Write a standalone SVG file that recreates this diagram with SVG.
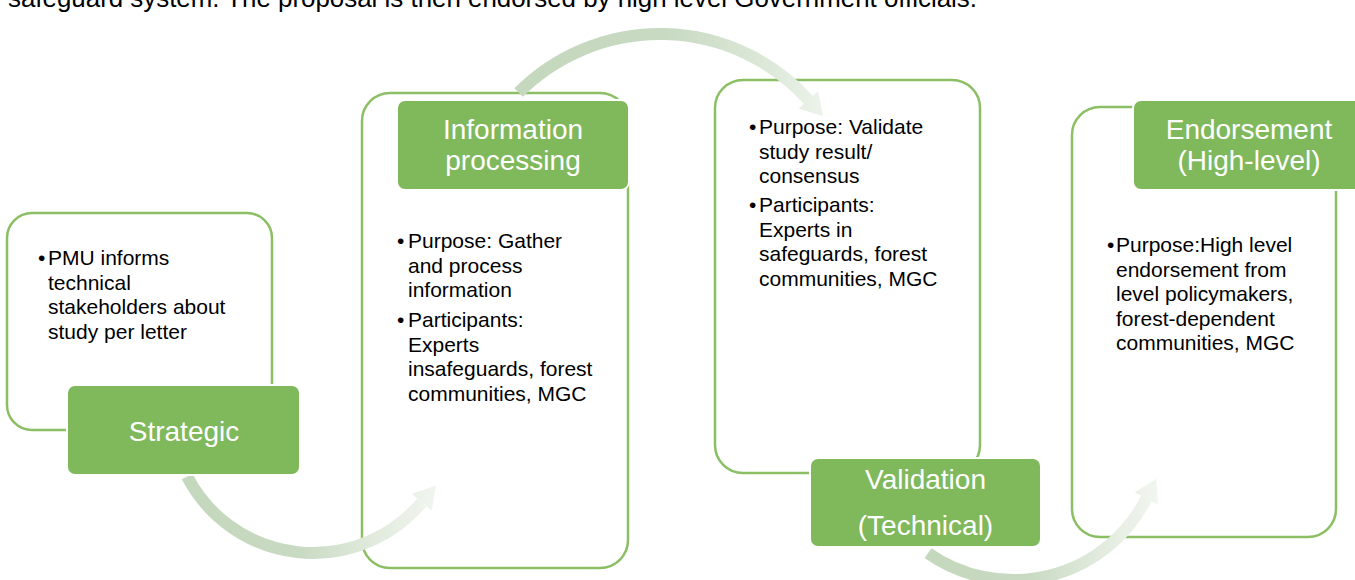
<svg xmlns="http://www.w3.org/2000/svg" width="1355" height="580" viewBox="0 0 1355 580">
<style>
.box{fill:#ffffff;stroke:#8cbf64;stroke-width:2.5}
.lab{fill:#80b85c;stroke:#ffffff;stroke-width:2}
.lt{font-family:"Liberation Sans",Arial,sans-serif;font-size:28px;fill:#ffffff;text-anchor:middle}
.bt{font-family:"Liberation Sans",Arial,sans-serif;font-size:21px;fill:#000000}
.top{font-family:"Liberation Sans",Arial,sans-serif;font-size:25.8px;fill:#000000}
</style>
<defs>
<linearGradient id="g1" gradientUnits="userSpaceOnUse" x1="180" y1="0" x2="440" y2="0">
<stop offset="0" stop-color="#c4d8bd"/><stop offset="0.45" stop-color="#c8dac2"/><stop offset="0.75" stop-color="#e2ebde"/><stop offset="1" stop-color="#f2f6f1"/>
</linearGradient>
<linearGradient id="g2" gradientUnits="userSpaceOnUse" x1="505" y1="0" x2="825" y2="0">
<stop offset="0" stop-color="#c4d8bd"/><stop offset="0.5" stop-color="#c8dac2"/><stop offset="0.8" stop-color="#dbe7d7"/><stop offset="1" stop-color="#edf3eb"/>
</linearGradient>
<linearGradient id="g3" gradientUnits="userSpaceOnUse" x1="920" y1="0" x2="1160" y2="0">
<stop offset="0" stop-color="#c4d8bd"/><stop offset="0.45" stop-color="#c8dac2"/><stop offset="0.75" stop-color="#e2ebde"/><stop offset="1" stop-color="#f2f6f1"/>
</linearGradient>
</defs>
<rect width="1355" height="580" fill="#ffffff"/>
<text class="top" x="8" y="7" textLength="969" lengthAdjust="spacingAndGlyphs">safeguard system. The proposal is then endorsed by high level Government officials.</text>
<g id="node-strategic">
<rect class="box" x="7" y="213" width="265" height="217" rx="25"/>
<text class="bt" x="38" y="265">•</text>
<text class="bt"><tspan x="48" y="265">PMU informs</tspan><tspan x="48" y="289.5">technical</tspan><tspan x="48" y="314">stakeholders about</tspan><tspan x="48" y="338.5">study per letter</tspan></text>
</g>
<g id="node-information">
<rect class="box" x="362" y="93" width="266" height="475" rx="28"/>
<text class="bt" x="397" y="248">•</text>
<text class="bt"><tspan x="408" y="248">Purpose: Gather</tspan><tspan x="408" y="272.5">and process</tspan><tspan x="408" y="297">information</tspan></text>
<text class="bt" x="397" y="327">•</text>
<text class="bt"><tspan x="408" y="327">Participants:</tspan><tspan x="408" y="351.5">Experts</tspan><tspan x="408" y="376">insafeguards, forest</tspan><tspan x="408" y="400.5">communities, MGC</tspan></text>
</g>
<g id="node-validation">
<rect class="box" x="715" y="80" width="265" height="393" rx="28"/>
<text class="bt" x="749" y="134">•</text>
<text class="bt"><tspan x="759" y="134">Purpose: Validate</tspan><tspan x="759" y="158.5">study result/</tspan><tspan x="759" y="183">consensus</tspan></text>
<text class="bt" x="749" y="212">•</text>
<text class="bt"><tspan x="759" y="212">Participants:</tspan><tspan x="759" y="236.5">Experts in</tspan><tspan x="759" y="261">safeguards, forest</tspan><tspan x="759" y="285.5">communities, MGC</tspan></text>
</g>
<g id="node-endorsement">
<rect class="box" x="1072" y="107" width="264" height="430" rx="28"/>
<text class="bt" x="1107" y="252">•</text>
<text class="bt"><tspan x="1116" y="252">Purpose:High level</tspan><tspan x="1116" y="276.5">endorsement from</tspan><tspan x="1116" y="301">level policymakers,</tspan><tspan x="1116" y="325.5">forest-dependent</tspan><tspan x="1116" y="350">communities, MGC</tspan></text>
</g>
<g id="connectors">
<path d="M 187.1 476.6 A 142 142 0 0 0 421.8 502.3" fill="none" stroke="url(#g1)" stroke-width="12"/>
<polygon points="436,485.4 431.8,510.6 411.8,493.9" fill="url(#g1)"/>
<path d="M 518.6 92.6 A 200 200 0 0 1 808.4 99.9" fill="none" stroke="url(#g2)" stroke-width="12"/>
<polygon points="823.1,116.2 818.0,91.2 798.8,108.6" fill="url(#g2)"/>
<path d="M 928 553.1 A 149 149 0 0 0 1146.4 498.4" fill="none" stroke="url(#g3)" stroke-width="12"/>
<polygon points="1156.3,478.8 1158.0,504.3 1134.8,492.5" fill="url(#g3)"/>
</g>
<g id="label-strategic">
<rect class="lab" x="67" y="385" width="233" height="90" rx="8"/>
<text class="lt" x="184" y="441">Strategic</text>
</g>
<g id="label-information">
<rect class="lab" x="397" y="100" width="232" height="90" rx="8"/>
<text class="lt"><tspan x="513" y="139">Information</tspan><tspan x="513" y="170">processing</tspan></text>
</g>
<g id="label-validation">
<rect class="lab" x="810" y="458" width="231" height="89" rx="8"/>
<text class="lt"><tspan x="925.5" y="489">Validation</tspan><tspan x="925.5" y="535">(Technical)</tspan></text>
</g>
<g id="label-endorsement">
<rect class="lab" x="1133" y="100" width="232" height="90" rx="8"/>
<text class="lt"><tspan x="1249" y="139">Endorsement</tspan><tspan x="1249" y="170">(High-level)</tspan></text>
</g>
</svg>
